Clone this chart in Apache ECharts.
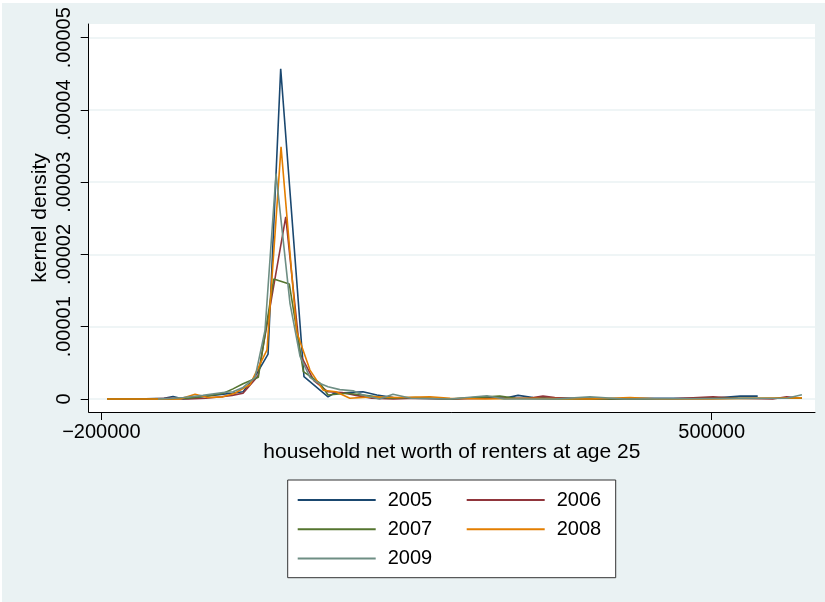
<!DOCTYPE html>
<html>
<head>
<meta charset="utf-8">
<script src="https://cdn.jsdelivr.net/npm/echarts@6/dist/echarts.min.js"></script>
<style>
  html, body { margin: 0; padding: 0; background: #ffffff; }
  #chart { position: absolute; left: 2px; top: 3px; width: 823px; height: 599px; }
</style>
</head>
<body>
<div id="chart"></div>
<script>
// Kernel density estimates of household net worth of renters at age 25, by survey year
const years = ['2005', '2006', '2007', '2008', '2009'];
const colors = ['#1A476F', '#90353B', '#55752F', '#E37E00', '#6E8E84'];

const x2005 = [-193500, -160000, -128000, -117800, -106000, -92000, -80000, -65000, -50000, -37500, -23700, -8800, 5700, 32400, 60000, 67000, 100000, 116000, 135000, 160000, 200000, 240000, 262000, 278000, 295000, 330000, 360000, 420000, 500000, 533000, 552800];
const d2005 = [0, 0, 1e-7, 3.5e-7, 0, 2e-7, 4e-7, 6e-7, 8e-7, 1.0e-6, 3.1e-6, 6.2e-6, 4.57e-5, 3.1e-6, 3e-7, 8e-7, 1.0e-6, 5.5e-7, 2e-7, 1e-7, 0, 2e-7, 1e-7, 5e-7, 2e-7, 1e-7, 0, 1e-7, 1e-7, 4e-7, 4e-7];

const x2006 = [-193500, -150000, -120000, -100000, -80000, -62000, -50000, -37500, -20300, 11500, 27900, 44000, 60000, 76000, 92000, 110000, 135000, 160000, 200000, 250000, 290000, 306500, 320000, 360000, 450000, 501500, 530000, 570000, 586000, 603500];
const d2006 = [0, 0, 1e-7, 0, 1e-7, 3e-7, 5e-7, 8e-7, 3.2e-6, 2.52e-5, 6.2e-6, 2.5e-6, 1.0e-6, 9e-7, 5e-7, 1e-7, 0, 1e-7, 0, 1e-7, 1e-7, 4e-7, 2e-7, 0, 0, 3e-7, 1e-7, 0, 3e-7, 1e-7];

const x2007 = [-193500, -150000, -120000, -100000, -85000, -72000, -60000, -49000, -37500, -20000, -2300, 15600, 31700, 50800, 60000, 82000, 100000, 130000, 160000, 200000, 257000, 275000, 320000, 450000, 520000, 603500];
const d2007 = [0, 0, 0, 1e-7, 3e-7, 5.5e-7, 8e-7, 1.4e-6, 2.1e-6, 3.0e-6, 1.66e-5, 1.59e-5, 3.8e-6, 2.2e-6, 5.5e-7, 8e-7, 5.5e-7, 1e-7, 2e-7, 0, 4e-7, 1e-7, 0, 0, 1e-7, 1e-7];

const x2008 = [-193500, -150000, -110000, -92500, -78000, -60500, -47000, -29500, -10000, 6100, 24000, 39300, 54600, 69000, 85000, 110000, 140000, 176900, 200000, 240000, 300000, 360000, 406300, 440000, 500000, 560000, 603500];
const d2008 = [0, 0, 0, 6.5e-7, 2e-7, 3e-7, 8e-7, 2.0e-6, 6.8e-6, 3.49e-5, 9.3e-6, 4.0e-6, 1.2e-6, 1.0e-6, 1e-7, 3e-7, 2e-7, 3e-7, 1e-7, 0, 1e-7, 0, 2e-7, 0, 0, 1e-7, 1.5e-7];

const x2009 = [-135000, -118000, -106000, -83400, -60400, -49000, -37500, -23700, -12300, 350, 16400, 27900, 39300, 46000, 60000, 73500, 88800, 100000, 119000, 134500, 155000, 200000, 242300, 262000, 320000, 360400, 400000, 586000, 603500];
const d2009 = [0, 1e-7, 2e-7, 5e-7, 9e-7, 1.0e-6, 1.6e-6, 3.0e-6, 9.5e-6, 3.12e-5, 1.32e-5, 5.9e-6, 3.0e-6, 2.4e-6, 1.7e-6, 1.3e-6, 1.15e-6, 5.5e-7, 0, 6.5e-7, 1e-7, 0, 4.5e-7, 0, 0, 3e-7, 0, 1e-7, 6e-7];

const xValues = [x2005, x2006, x2007, x2008, x2009];
const densities = [d2005, d2006, d2007, d2008, d2009];

// Axis ticks and their printed labels
const xTicks = [-200000, 500000];
const xTickLabels = ['\u2212200000', '500000'];
const yTicks = [0, 0.00001, 0.00002, 0.00003, 0.00004, 0.00005];
const yTickLabels = ['0', '.00001', '.00002', '.00003', '.00004', '.00005'];

const FONT = 'Liberation Sans, Arial, Helvetica, sans-serif';

function labelFor(ticks, labels, v) {
  for (let i = 0; i < ticks.length; i++) {
    if (Math.abs(ticks[i] - v) <= Math.abs(ticks[i]) * 1e-9 + 1e-12) return labels[i];
  }
  return '';
}

const chart = echarts.init(document.getElementById('chart'), null, { renderer: 'canvas' });

const series = years.map((name, i) => ({
  name: name,
  type: 'line',
  data: xValues[i].map((x, j) => [x, densities[i][j]]),
  showSymbol: false,
  symbol: 'none',
  color: colors[i],
  lineStyle: { width: 1.6, color: colors[i] },
  z: 3 + i,
  silent: true
}));

const legendCommon = {
  orient: 'vertical',
  padding: 0,
  itemWidth: 78,
  itemHeight: 2,
  itemGap: 9.3,
  icon: 'rect',
  selectedMode: false,
  textStyle: { fontFamily: FONT, fontSize: 20, color: '#000', lineHeight: 20, padding: [0, 0, 0, 7] }
};

chart.setOption({
  animation: false,
  backgroundColor: '#EAF2F3',
  textStyle: { fontFamily: FONT },
  grid: {
    left: 86.7, top: 21, right: 10, bottom: 190,
    show: true, backgroundColor: '#ffffff', borderWidth: 0
  },
  xAxis: {
    type: 'value',
    min: -214500,
    max: 618500,
    axisLine: { show: true, onZero: false, lineStyle: { color: '#000', width: 1 } },
    axisTick: { show: true, customValues: xTicks, length: 8, lineStyle: { color: '#000', width: 1 } },
    axisLabel: {
      customValues: xTicks,
      formatter: v => labelFor(xTicks, xTickLabels, v),
      fontFamily: FONT, fontSize: 20, color: '#000', margin: 10
    },
    splitLine: { show: false },
    name: 'household net worth of renters at age 25',
    nameLocation: 'middle',
    nameGap: 30,
    nameMoveOverlap: false,
    nameTextStyle: { fontFamily: FONT, fontSize: 21, color: '#000' }
  },
  yAxis: {
    type: 'value',
    min: -0.0000018,
    max: 0.0000519,
    axisLine: { show: true, onZero: false, lineStyle: { color: '#000', width: 1 } },
    axisTick: { show: true, customValues: yTicks, length: 8, lineStyle: { color: '#000', width: 1 } },
    axisLabel: {
      customValues: yTicks,
      formatter: v => labelFor(yTicks, yTickLabels, v),
      rotate: 90,
      fontFamily: FONT, fontSize: 20, color: '#000', margin: 14
    },
    splitLine: { show: true, lineStyle: { color: '#EAF2F3', width: 1.5 } },
    name: 'kernel density',
    nameLocation: 'middle',
    nameGap: 38,
    nameMoveOverlap: false,
    nameTextStyle: { fontFamily: FONT, fontSize: 21, color: '#000' }
  },
  legend: [
    Object.assign({}, legendCommon, { data: ['2005', '2007', '2009'], left: 295.7, top: 487 }),
    Object.assign({}, legendCommon, { data: ['2006', '2008'], left: 464.7, top: 487 })
  ],
  graphic: [{
    type: 'rect',
    z: 0,
    silent: true,
    shape: { x: 285.7, y: 477, width: 328, height: 97.7 },
    style: { fill: '#ffffff', stroke: '#333333', lineWidth: 1 }
  }],
  series: series
});
</script>
</body>
</html>
